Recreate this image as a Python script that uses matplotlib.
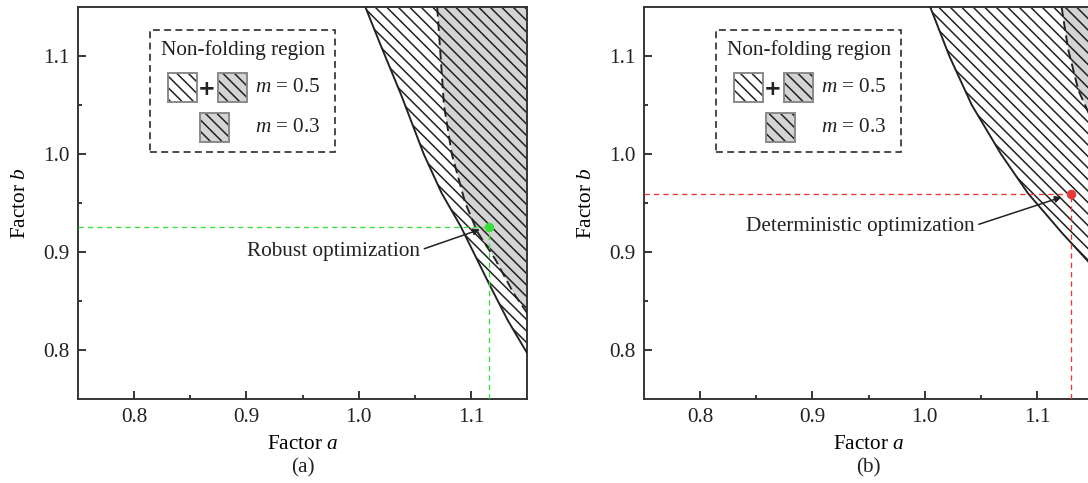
import matplotlib
matplotlib.use('Agg')
import matplotlib.pyplot as plt
from matplotlib.patches import Rectangle

DPI = 138
W, H = 1088, 483

plt.rcParams.update({
    'font.family': ['Liberation Serif', 'DejaVu Serif'],
    'mathtext.fontset': 'custom',
    'mathtext.rm': 'Liberation Serif',
    'mathtext.it': 'Liberation Serif:italic',
    'hatch.linewidth': 0.8,
    'hatch.color': '#222222',
    'text.color': '#222222',
    'axes.edgecolor': '#333333',
    'xtick.color': '#333333',
    'ytick.color': '#333333',
    'xtick.labelcolor': '#222222',
    'ytick.labelcolor': '#222222',
})

# ---------------- data ----------------
x_lim = (0.75, 1.15)
y_lim = (0.75, 1.15)
major_ticks = [0.8, 0.9, 1.0, 1.1]
minor_ticks = [0.85, 0.95, 1.05]
tick_labels = ['0.8', '0.9', '1.0', '1.1']

# panel (a): robust optimization
a_solid_b = [1.15, 1.11, 1.06, 1.00, 0.96, 0.926, 0.868, 0.83, 0.797]
a_solid_a = [1.006, 1.020, 1.038, 1.058, 1.074, 1.091, 1.116, 1.133, 1.150]
a_dash_b = [1.15, 1.10, 1.05, 1.00, 0.95, 0.92, 0.892, 0.858, 0.838]
a_dash_a = [1.070, 1.073, 1.076, 1.083, 1.095, 1.106, 1.122, 1.138, 1.150]
a_opt = (1.116, 0.926)

# panel (b): deterministic optimization
b_solid_b = [1.15, 1.10, 1.05, 1.00, 0.96, 0.92, 0.885]
b_solid_a = [1.005, 1.022, 1.042, 1.068, 1.092, 1.122, 1.150]
b_dash_b = [1.15, 1.106, 1.065, 1.042, 1.02]
b_dash_a = [1.122, 1.128, 1.137, 1.146, 1.150]
b_opt = (1.130, 0.959)

FS = 11.1
HATCH = '\\\\\\\\'
GRAY = '#d4d4d4'
INK = '#222222'


def setup_axes(ax):
    ax.set_xlim(*x_lim)
    ax.set_ylim(*y_lim)
    ax.set_xticks(major_ticks)
    ax.set_xticklabels(tick_labels, fontsize=FS)
    ax.set_yticks(major_ticks)
    ax.set_yticklabels(tick_labels, fontsize=FS)
    ax.set_xticks(minor_ticks, minor=True)
    ax.set_yticks(minor_ticks, minor=True)
    ax.tick_params(which='both', direction='in', top=False, right=False)
    ax.tick_params(which='major', length=4.3, width=1.0, pad=4.5)
    ax.tick_params(which='minor', length=2.2, width=1.0)
    for s in ax.spines.values():
        s.set_linewidth(1.0)
    ax.set_xlabel('Factor $a$', fontsize=FS)
    ax.set_ylabel('Factor $b$', fontsize=FS)
    ax.xaxis.set_label_coords(0.5, -0.117)
    ax.xaxis.label.set_va('center')
    ax.yaxis.set_label_coords(-0.127, 0.5)
    ax.yaxis.label.set_va('center')


def draw_regions(ax, sa, sb, da, db):
    corner = (x_lim[1], y_lim[1])
    ax.fill(list(sa) + [corner[0]], list(sb) + [corner[1]],
            facecolor='white', edgecolor=INK, linewidth=0, hatch=HATCH, zorder=1)
    ax.fill(list(da) + [corner[0]], list(db) + [corner[1]],
            facecolor=GRAY, edgecolor=INK, linewidth=0, hatch=HATCH, zorder=1.5)
    ax.plot(sa, sb, color=INK, lw=1.0, zorder=3, solid_capstyle='butt')
    ax.plot(da, db, color=INK, lw=1.0, ls=(0, (5, 2.5)), zorder=3)


def draw_opt(ax, pt, color, label, text_xy):
    ax.plot([x_lim[0], pt[0]], [pt[1], pt[1]], color=color, lw=0.7,
            ls=(0, (4, 3)), zorder=4)
    ax.plot([pt[0], pt[0]], [y_lim[0], pt[1]], color=color, lw=0.7,
            ls=(0, (4, 3)), zorder=4)
    ax.plot([pt[0]], [pt[1]], 'o', color=color, ms=5.0, mec='none', zorder=6)
    ax.annotate(label, xy=(pt[0] - 0.008, pt[1] - 0.003), xytext=text_xy,
                ha='center', va='center', fontsize=FS, zorder=7,
                arrowprops=dict(arrowstyle='-|>', color=INK, lw=0.8,
                                mutation_scale=7, shrinkA=0, shrinkB=0,
                                relpos=(1.0, 0.55)))


def draw_legend(ax):
    T = ax.transAxes
    ax.add_patch(Rectangle((0.160, 0.630), 0.412, 0.311, transform=T, fill=False,
                           ec='#333333', lw=0.9, ls=(0, (4, 2.5)), zorder=8))
    ax.text(0.367, 0.890, 'Non-folding region', transform=T, ha='center',
            va='center', fontsize=FS, zorder=9)
    sw, sh = 0.065, 0.075
    boxes = [((0.200, 0.757), 'white'), ((0.312, 0.757), GRAY),
             ((0.272, 0.655), GRAY)]
    for (x0, y0), fc in boxes:
        ax.add_patch(Rectangle((x0, y0), sw, sh, transform=T, facecolor=fc,
                               edgecolor=INK, lw=0, hatch=HATCH, zorder=8))
        ax.add_patch(Rectangle((x0, y0), sw, sh, transform=T, fill=False,
                               edgecolor='#888888', lw=1.0, zorder=9))
    ax.text(0.2875, 0.792, '+', transform=T, ha='center', va='center',
            fontsize=FS, fontweight='bold', family='DejaVu Sans', zorder=9)
    ax.text(0.394, 0.794, '$m$ = 0.5', transform=T, ha='left', va='center',
            fontsize=FS, zorder=9)
    ax.text(0.394, 0.692, '$m$ = 0.3', transform=T, ha='left', va='center',
            fontsize=FS, zorder=9)


fig = plt.figure(figsize=(W / DPI, H / DPI), dpi=DPI)
ax_w, ax_h = 449 / W, 392 / H
ax_bottom = (H - 399) / H
axA = fig.add_axes([78 / W, ax_bottom, ax_w, ax_h])
axB = fig.add_axes([644 / W, ax_bottom, ax_w, ax_h])

for ax in (axA, axB):
    setup_axes(ax)

draw_regions(axA, a_solid_a, a_solid_b, a_dash_a, a_dash_b)
draw_regions(axB, b_solid_a, b_solid_b, b_dash_a, b_dash_b)

draw_opt(axA, a_opt, '#3fdc3f', 'Robust optimization', (0.978, 0.901))
draw_opt(axB, b_opt, '#e23a3e', 'Deterministic optimization', (0.943, 0.926))

draw_legend(axA)
draw_legend(axB)

axA.text(0.5, -0.176, '(a)', transform=axA.transAxes, ha='center', va='center',
         fontsize=FS)
axB.text(0.5, -0.176, '(b)', transform=axB.transAxes, ha='center', va='center',
         fontsize=FS)

fig.savefig('out.png', dpi=DPI)
